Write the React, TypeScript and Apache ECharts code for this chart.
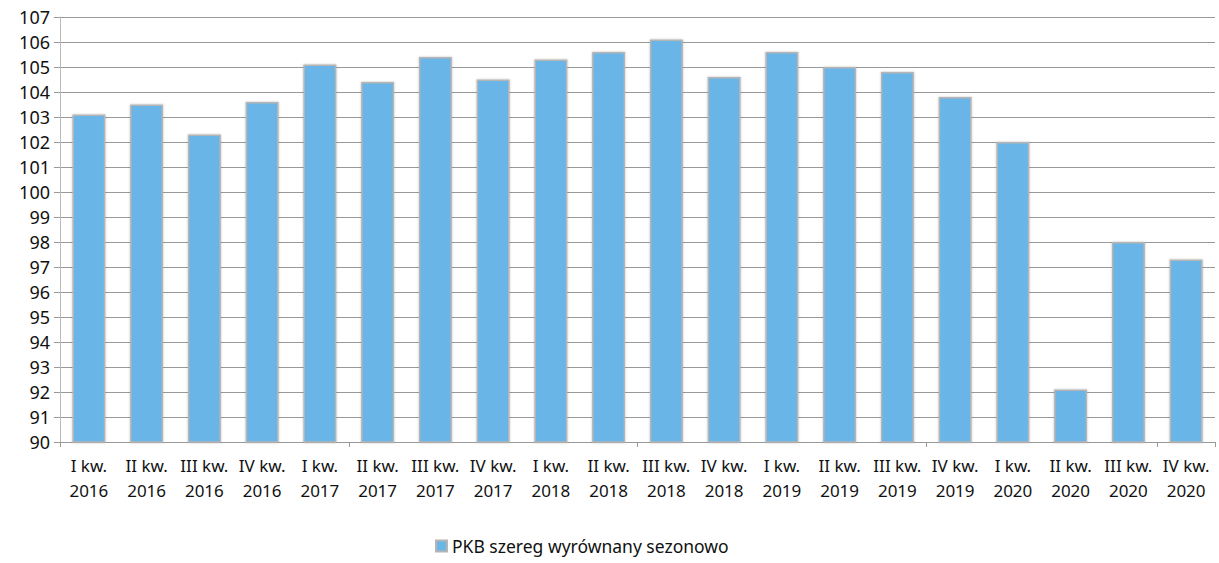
import React, { useEffect, useRef } from "react";
import * as echarts from "echarts";

const categories = [
  "I kw.\n2016", "II kw.\n2016", "III kw.\n2016", "IV kw.\n2016",
  "I kw.\n2017", "II kw.\n2017", "III kw.\n2017", "IV kw.\n2017",
  "I kw.\n2018", "II kw.\n2018", "III kw.\n2018", "IV kw.\n2018",
  "I kw.\n2019", "II kw.\n2019", "III kw.\n2019", "IV kw.\n2019",
  "I kw.\n2020", "II kw.\n2020", "III kw.\n2020", "IV kw.\n2020",
];

const pkbValues = [
  103.1, 103.5, 102.3, 103.6,
  105.1, 104.4, 105.4, 104.5,
  105.3, 105.6, 106.1, 104.6,
  105.6, 105.0, 104.8, 103.8,
  102.0, 92.1, 98.0, 97.3,
];

const seriesName = "PKB szereg wyrównany sezonowo";

export default function App() {
  const ref = useRef<HTMLDivElement>(null);
  useEffect(() => {
    if (!ref.current) return;
    const chart = echarts.init(ref.current, undefined, { renderer: "svg" });
    const font = "'Noto Sans', sans-serif";
    chart.setOption({
      animation: false,
      textStyle: { fontFamily: font },
      grid: { left: 60, right: 4, top: 17, bottom: 121, containLabel: false },
      legend: {
        bottom: 3,
        left: 430,
        icon: "rect",
        itemWidth: 11,
        itemHeight: 11,
        itemGap: 4,
        textStyle: { fontSize: 17.5, color: "#111", fontFamily: font },
        data: [seriesName],
      },
      xAxis: {
        type: "category",
        data: categories,
        axisLine: { show: true, lineStyle: { color: "#999", width: 1 } },
        axisTick: { show: true, interval: 4, length: 5, lineStyle: { color: "#999" } },
        axisLabel: {
          interval: 0,
          fontSize: 17,
          lineHeight: 25,
          color: "#111",
          margin: 11,
          fontFamily: font,
        },
      },
      yAxis: {
        type: "value",
        min: 90,
        max: 107,
        interval: 1,
        axisLine: { show: true, lineStyle: { color: "#bbb", width: 1 } },
        axisTick: { show: true, length: 6, lineStyle: { color: "#999" } },
        axisLabel: { fontSize: 18, color: "#111", margin: 10, fontFamily: font },
        splitLine: { show: true, lineStyle: { color: "#999", width: 1.2 } },
      },
      series: [
        {
          name: seriesName,
          type: "bar",
          data: pkbValues,
          barWidth: 33,
          itemStyle: {
            color: "#6bb5e7",
            borderColor: "#b5b5b5",
            borderWidth: 1.5,
            shadowBlur: 2,
            shadowColor: "rgba(0,0,0,0.25)",
          },
        },
      ],
    });
    return () => chart.dispose();
  }, []);
  return (
    <div
      ref={ref}
      style={{ position: "fixed", left: 0, top: 0, width: 1219, height: 563, background: "#fff" }}
    />
  );
}
